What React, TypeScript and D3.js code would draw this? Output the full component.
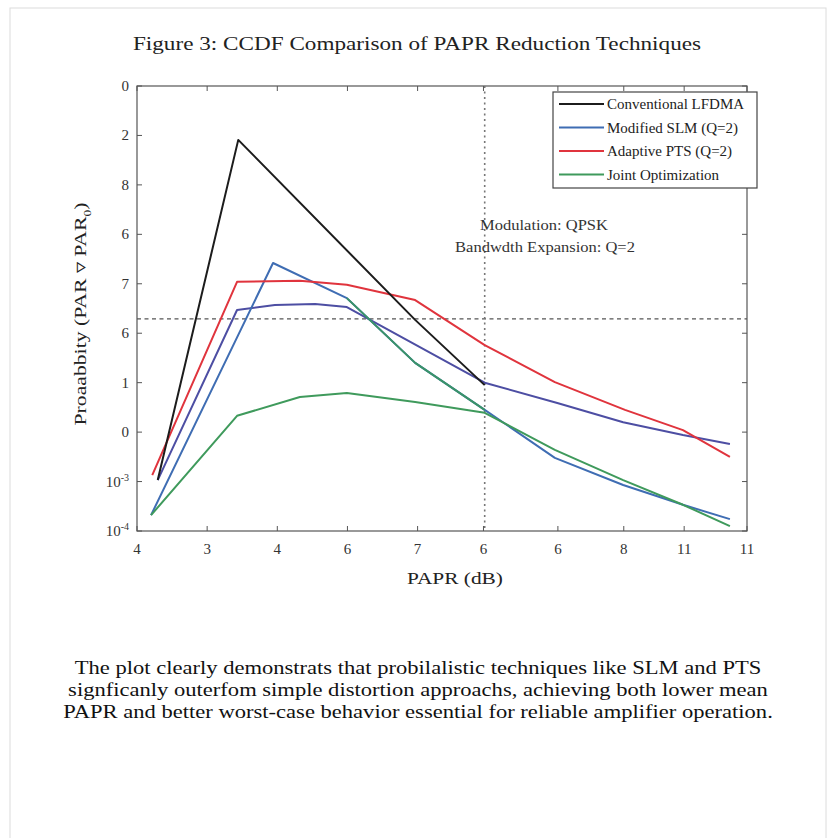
import React from 'react';
import * as d3 from 'd3';

// axis ticks (positions on a hidden 0..100 x scale, 0..9 y scale)
const xTickVals = [0, 11.5, 23, 34.5, 46, 56.8, 69, 79.8, 89.7, 100];
const xTickLabels = ['4', '3', '4', '6', '7', '6', '6', '8', '11', '11'];
const yTickVals = [0, 1, 2, 3, 4, 5, 6, 7, 8, 9];
const yTickLabels = ['10^-4', '10^-3', '0', '1', '6', '7', '6', '8', '2', '0'];

// series
const conventional = [[3.4, 1.03], [16.6, 7.91], [45.6, 4.27], [57.0, 2.95]];
const modifiedSlm = [[2.3, 0.32], [22.3, 5.42], [34.4, 4.71], [45.6, 3.4], [57.0, 2.45], [68.5, 1.48], [79.7, 0.93], [89.5, 0.53], [97.2, 0.24]];
const adaptivePts = [[2.5, 1.13], [16.4, 5.04], [26.7, 5.06], [34.4, 4.98], [45.6, 4.67], [57.0, 3.76], [68.5, 3.01], [80.0, 2.45], [89.5, 2.04], [97.2, 1.5]];
const jointOpt = [[2.3, 0.32], [16.4, 2.33], [26.7, 2.71], [34.4, 2.79], [45.6, 2.61], [57.0, 2.39], [68.5, 1.64], [79.7, 1.03], [89.5, 0.53], [97.2, 0.1]];
const slmVariant = [[3.4, 1.03], [16.4, 4.47], [22.6, 4.57], [29.2, 4.59], [34.4, 4.53], [57.0, 3.0], [68.9, 2.59], [79.7, 2.2], [89.5, 1.94], [97.2, 1.76]];
const jointUpper = [[34.4, 4.71], [45.6, 3.4], [57.0, 2.45]];

const refX = 57.0;
const refY = 4.29;

const legendItems = [
  { name: 'Conventional LFDMA', color: '#1c1c1c' },
  { name: 'Modified SLM (Q=2)', color: '#3f6db3' },
  { name: 'Adaptive PTS (Q=2)', color: '#e0343d' },
  { name: 'Joint Optimization', color: '#3f9a5c' },
];

const caption = [
  'The plot clearly demonstrats that probilalistic techniques like SLM and PTS',
  'signficanly outerfom simple distortion approachs, achieving both lower mean',
  'PAPR and better worst-case behavior essential for reliable amplifier operation.',
];

const W = 835;
const H = 838;
const left = 137, right = 747, top = 86, bottom = 531;
const font = '"Liberation Serif", "Times New Roman", serif';

export default function App() {
  const x = d3.scaleLinear().domain([0, 100]).range([left, right]);
  const y = d3.scaleLinear().domain([0, 9]).range([bottom, top]);
  const line = d3.line<number[]>().x(d => x(d[0])).y(d => y(d[1]));

  const series = [
    { data: slmVariant, color: '#4d4ea3' },
    { data: modifiedSlm, color: '#3f6db3' },
    { data: jointOpt, color: '#3f9a5c' },
    { data: jointUpper, color: '#3a9468' },
    { data: adaptivePts, color: '#e0343d' },
    { data: conventional, color: '#1c1c1c' },
  ];

  return (
    <div style={{ position: 'absolute', left: 0, top: 0 }}>
      <svg width={W} height={H} style={{ display: 'block', background: '#fff' }} fontFamily={font}>
        <rect x={10} y={8} width={816} height={850} fill="none" stroke="#dcdcdc" />
        <text transform="translate(417,50) scale(1.22,1)" textAnchor="middle" fontSize={19} fill="#222">
          Figure 3: CCDF Comparison of PAPR Reduction Techniques
        </text>

        {/* frame */}
        <rect x={left} y={top} width={right - left} height={bottom - top} fill="none" stroke="#555" strokeWidth={1.2} />

        {xTickVals.map((v, i) => (
          <g key={'x' + i}>
            <line x1={x(v)} x2={x(v)} y1={bottom} y2={bottom - 5} stroke="#555" />
            <line x1={x(v)} x2={x(v)} y1={top} y2={top + 5} stroke="#555" />
            <text x={x(v)} y={bottom + 23} textAnchor="middle" fontSize={15} fill="#333">{xTickLabels[i]}</text>
          </g>
        ))}
        {yTickVals.map((v, i) => {
          const lab = yTickLabels[i];
          const parts = lab.split('^');
          return (
            <g key={'y' + i}>
              <line x1={left} x2={left + 5} y1={y(v)} y2={y(v)} stroke="#555" />
              <line x1={right} x2={right - 5} y1={y(v)} y2={y(v)} stroke="#555" />
              <text x={left - 8} y={y(v) + 5} textAnchor="end" fontSize={15} fill="#333">
                {parts[0]}
                {parts[1] && <tspan fontSize={10} dy={-6}>{parts[1]}</tspan>}
              </text>
            </g>
          );
        })}

        {/* reference lines */}
        <line x1={left} x2={right} y1={y(refY)} y2={y(refY)} stroke="#555" strokeWidth={1.2} strokeDasharray="4,3.5" />
        <line x1={x(refX)} x2={x(refX)} y1={top} y2={bottom} stroke="#777" strokeWidth={1.6} strokeDasharray="2,3.5" />

        {series.map((s, i) => (
          <path key={i} d={line(s.data) || ''} fill="none" stroke={s.color} strokeWidth={2} strokeLinejoin="round" />
        ))}

        <text transform="translate(544,230) scale(1.18,1)" textAnchor="middle" fontSize={14} fill="#333">Modulation: QPSK</text>
        <text transform="translate(545,252) scale(1.18,1)" textAnchor="middle" fontSize={14} fill="#333">Bandwdth Expansion: Q=2</text>

        {/* legend */}
        <rect x={553} y={92} width={204} height={96} fill="#fff" stroke="#444" strokeWidth={1.2} />
        {legendItems.map((it, i) => (
          <g key={it.name}>
            <line x1={559} x2={604} y1={104 + i * 23.5} y2={104 + i * 23.5} stroke={it.color} strokeWidth={2.2} />
            <text x={607} y={109 + i * 23.5} fontSize={15} fill="#222">{it.name}</text>
          </g>
        ))}

        <text transform="translate(455,584) scale(1.22,1)" textAnchor="middle" fontSize={17.5} fill="#222">PAPR (dB)</text>
        <text transform="translate(86,314) rotate(-90) scale(1.24,1)" textAnchor="middle" fontSize={17.5} fill="#222">
          Proaabbity (PAR ▿ PAR<tspan fontSize={11} dy={5}>0</tspan><tspan dy={-5}>)</tspan>
        </text>

        {caption.map((t, i) => (
          <text key={i} transform={`translate(418,${674 + i * 22}) scale(1.22,1)`} textAnchor="middle" fontSize={18.5} fill="#111">{t}</text>
        ))}
      </svg>
    </div>
  );
}
